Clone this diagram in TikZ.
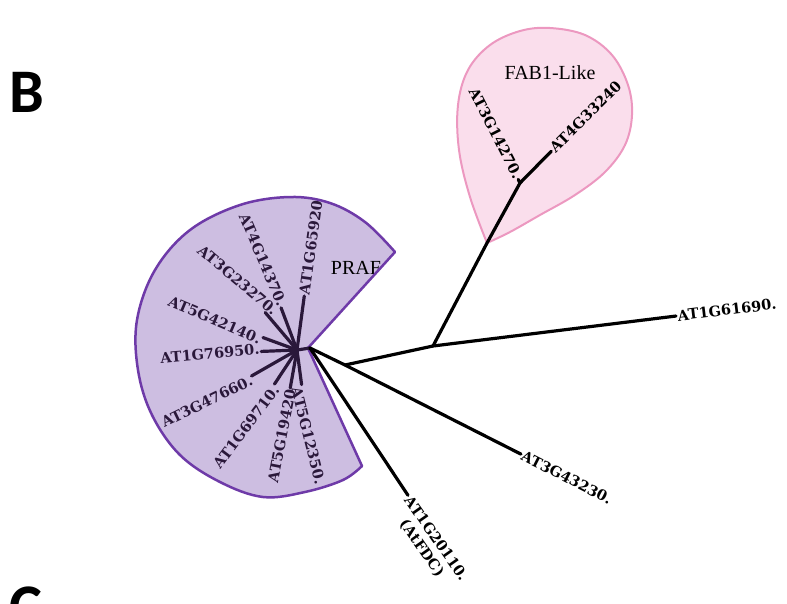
\documentclass[tikz,border=0pt]{standalone}
\usepackage{fontspec}
\setmainfont{Liberation Serif}
\newfontfamily\treefont{DejaVu Serif}
\newfontfamily\panelfont{Carlito}
\definecolor{prafFill}{RGB}{205,190,225}
\definecolor{prafLine}{RGB}{110,58,168}
\definecolor{fabFill}{RGB}{250,222,236}
\definecolor{fabLine}{RGB}{236,152,192}
\definecolor{twig}{RGB}{42,24,58}
\tikzset{
	branch/.style={line width=3.2pt, color=black, line cap=round},
	twigline/.style={line width=3.2pt, color=twig, line cap=round},
	leaf/.style={font=\treefont\bfseries\fontsize{14.5}{16}\selectfont, inner sep=1.5pt},
	clade/.style={font=\fontsize{20}{22}\selectfont, inner sep=0pt},
	panel/.style={font=\panelfont\bfseries\fontsize{62}{64}\selectfont, inner sep=0pt},
}
\def\prafpath{(308,348) -- plot[smooth, tension=0.6] coordinates {(395,252) (365,222) (330,203) (290,197) (240,205) (190,230) (155,270) (137,320) (138,370) (152,415) (180,455) (220,482) (263,497) (305,492) (343,480) (362,466)} -- cycle}
\def\fabpath{plot[smooth, tension=0.6] coordinates {(487,243) (470,197) (459,150) (458,105) (468,70) (490,45) (520,31) (550,28) (585,35) (612,55) (628,85) (632,115) (625,145) (605,172) (575,195) (540,215) (510,232) (487,243)} -- cycle}

\begin{document}
\begin{tikzpicture}[x=1pt, y=-1pt]
			\useasboundingbox (0,0) rectangle (787,603);
			%%%%% START %%%%%
			
			\node[panel, anchor=north west] (panelB) at (9,72) {B};
			\node[panel, anchor=north west] (panelC) at (9,587) {C};
			
			% clades
			\fill[prafFill] \prafpath;
			\begin{scope}
				\clip \prafpath;
				\node[clade] (praf) at (356,268) {PRAF};
			\end{scope}
			\draw[line width=2.5pt, color=prafLine, line join=round] \prafpath;
			
			\filldraw[line width=2pt, draw=fabLine, fill=fabFill, line join=round] \fabpath;
			\node[clade] (fab) at (550,73) {FAB1-Like};
			
			\coordinate (hub) at (297,350);
			\coordinate (root) at (310,348);
			\coordinate (inA) at (345,365);
			\coordinate (inB) at (433,346);
			\coordinate (inC) at (487,243);
			\coordinate (inD) at (520,183);
			
			% PRAF leaves
			\node[leaf, color=twig, anchor=west, rotate=82] (at1g65920) at (304,296) {AT1G65920};
			\node[leaf, color=twig, anchor=east, rotate=-67] (at4g14370) at (283,307) {AT4G14370.};
			\node[leaf, color=twig, anchor=east, rotate=-40] (at3g23270) at (277,313) {AT3G23270.};
			\node[leaf, color=twig, anchor=east, rotate=-23] (at5g42140) at (262,340) {AT5G42140.};
			\node[leaf, color=twig, anchor=east, rotate=5] (at1g76950) at (261,349) {AT1G76950.};
			\node[leaf, color=twig, anchor=east, rotate=26] (at3g47660) at (253,379) {AT3G47660.};
			\node[leaf, color=twig, anchor=east, rotate=53] (at1g69710) at (277,386) {AT1G69710.};
			\node[leaf, color=twig, anchor=east, rotate=79] (at5g19420) at (291,388) {AT5G19420};
			\node[leaf, color=twig, anchor=west, rotate=-76] (at5g12350) at (296,386) {AT5G12350.};
			
			\foreach \g in {at1g65920,at4g14370,at3g23270,at5g42140,at1g76950,at3g47660,at1g69710,at5g19420,at5g12350}
				\draw[twigline] (hub) -- (\g);
			\draw[twigline] (hub) -- (root);
			
			% other leaves
			\node[leaf, anchor=west, rotate=7] (at1g61690) at (676,316) {AT1G61690.};
			\node[leaf, anchor=west, rotate=-27] (at3g43230) at (521,454) {AT3G43230.};
			\node[leaf, anchor=west, rotate=-55] (at1g20110) at (407,496) {AT1G20110.};
			\node[leaf, anchor=north, rotate=-55, inner ysep=4pt] (atfdc) at (at1g20110.south) {(AtFDC)};
			\node[leaf, anchor=east, rotate=-63] (at3g14270) at (519,179) {AT3G14270.};
			\node[leaf, anchor=west, rotate=45] (at4g33240) at (551,151) {AT4G33240};
			
			\draw[branch] (root) -- (inA) -- (at3g43230);
			\draw[branch] (inA) -- (inB) -- (at1g61690);
			\draw[branch] (inB) -- (inC) -- (inD) -- (at4g33240);
			\draw[branch] (inD) -- (at3g14270);
			\draw[branch] (root) -- (at1g20110);
			
			%%%%% END %%%%%
\end{tikzpicture}
\end{document}
